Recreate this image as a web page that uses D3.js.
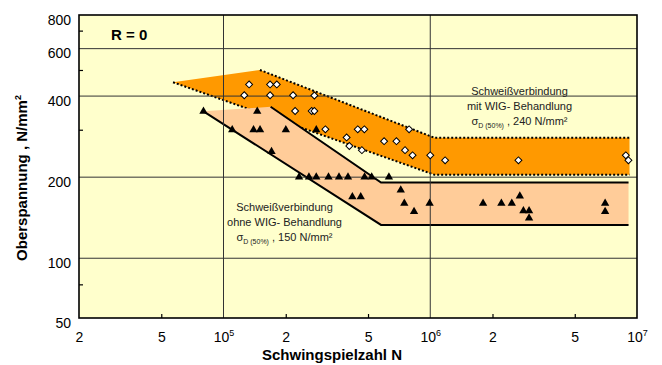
<!DOCTYPE html>
<html><head><meta charset="utf-8">
<script src="https://cdn.jsdelivr.net/npm/d3@7"></script>
<style>body{margin:0;background:#fff;} svg{display:block;font-family:Arial,"Liberation Sans",sans-serif;}</style>
</head><body><svg id="c" width="662" height="365"></svg>
<script>
// ---- axis ticks ----
const xTickValues = [2e4, 5e4, 1e5, 2e5, 5e5, 1e6, 2e6, 5e6, 1e7];
const xTickLabels = ["2", "5", "10^5", "2", "5", "10^6", "2", "5", "10^7"];
const xMinorTicks = [5e4, 2e5, 5e5, 2e6, 5e6];
const xGrid = [1e5, 1e6];
const yTickValues = [60, 100, 200, 400, 600, 800];
const yTickLabels = ["50", "100", "200", "400", "600", "800"];
const yGrid = [100, 200, 400, 600];
const yMinorTicks = [80, 300, 500, 700];

// ---- data: Schweißverbindung mit WIG-Behandlung (diamonds) ----
const wigN = [126000, 133000, 168000, 181000, 168000, 217000, 275000, 222000, 267000, 275000,
  311000, 394000, 406000, 446000, 480000, 467000, 598000, 686000, 755000, 790000,
  821000, 1000000, 1180000, 2670000, 8830000, 9090000];
const wigS = [403, 442, 442, 442, 403, 403, 402, 352, 352, 352,
  301, 281, 261, 301, 301, 252, 272, 272, 252, 301,
  241, 241, 231, 231, 241, 231];

// ---- data: Schweißverbindung ohne WIG-Behandlung (triangles) ----
const ohneN = [80000, 145600, 110200, 139700, 150200, 200200, 281000, 170700,
  232000, 259000, 281000, 322000, 362000, 400000, 481000, 521000, 631000,
  420000, 461000, 720000, 749000, 835000, 993000, 1801000, 2208000, 2480000,
  2712000, 2822000, 3006000, 3006000, 7012000, 7012000];
const ohneS = [351, 351, 300, 300, 300, 300, 300, 249,
  200, 200, 200, 200, 200, 200, 200, 200, 200,
  169, 169, 179, 160, 149, 160, 160, 160, 160,
  170, 150, 150, 141, 160, 149];

// ---- scatter bands ----
const wigUpperN = [150000, 1050000, 9200000];
const wigUpperS = [500, 280, 280];
const wigLowerN = [57000, 1050000, 9200000];
const wigLowerS = [450, 204, 204];
const ohneUpperN = [169000, 578000, 9100000];
const ohneUpperS = [365, 191, 191];
const ohneLowerN = [80000, 578000, 9100000];
const ohneLowerS = [351, 133, 133];

const L = 79, R = 637, T = 15, B = 318;
const x = d3.scaleLog().domain([2e4, 1e7]).range([L, R]);
const y = d3.scaleLog().domain([60, 800]).range([B, T]);

const svg = d3.select("#c");
const zip = (a, b) => a.map((v, i) => [v, b[i]]);
const line = d3.line().x(d => x(d[0])).y(d => y(d[1]));

// background
svg.append("rect").attr("x", L).attr("y", T).attr("width", R - L).attr("height", B - T).attr("fill", "#FFFFCC");

// orange band
const wigU = zip(wigUpperN, wigUpperS), wigL = zip(wigLowerN, wigLowerS);
svg.append("path").attr("d", line([wigL[0], ...wigU, ...wigL.slice().reverse()]) + "Z")
  .attr("fill", "#FF9900");
[wigU, wigL].forEach(p => svg.append("path").attr("d", line(p)).attr("fill", "none")
  .attr("stroke", "#000").attr("stroke-width", 2).attr("stroke-dasharray", "2,2"));

// peach band
const ohU = zip(ohneUpperN, ohneUpperS), ohL = zip(ohneLowerN, ohneLowerS);
svg.append("path").attr("d", line([...ohU, ...ohL.slice().reverse()]) + "Z").attr("fill", "#FFCC99");
[ohU, ohL].forEach(p => svg.append("path").attr("d", line(p)).attr("fill", "none")
  .attr("stroke", "#000").attr("stroke-width", 2));

// gridlines
svg.selectAll(".gy").data(yGrid).enter().append("line")
  .attr("x1", L).attr("x2", R).attr("y1", d => y(d)).attr("y2", d => y(d))
  .attr("stroke", "#333").attr("stroke-width", 1);
svg.selectAll(".gx").data(xGrid).enter().append("line")
  .attr("y1", T).attr("y2", B).attr("x1", d => x(d)).attr("x2", d => x(d))
  .attr("stroke", "#333").attr("stroke-width", 1);

// markers
const tri = d3.symbol().type(d3.symbolTriangle).size(30);
svg.selectAll(".tri").data(zip(ohneN, ohneS)).enter().append("path")
  .attr("d", tri).attr("transform", d => `translate(${x(d[0])},${y(d[1])})`).attr("fill", "#000");
const dia = d3.symbol().type(d3.symbolSquare).size(24);
svg.selectAll(".dia").data(zip(wigN, wigS)).enter().append("path")
  .attr("d", dia).attr("transform", d => `translate(${x(d[0])},${y(d[1])}) rotate(45)`)
  .attr("fill", "#fff").attr("stroke", "#000").attr("stroke-width", 1);

// minor ticks (inside)
const ax = svg.append("g").attr("transform", `translate(0,${B})`)
  .call(d3.axisBottom(x).tickValues(xMinorTicks).tickSize(-4).tickFormat(""));
const ay = svg.append("g").attr("transform", `translate(${L},0)`)
  .call(d3.axisLeft(y).tickValues(yMinorTicks).tickSize(-4).tickFormat(""));
[ax, ay].forEach(g => { g.select(".domain").remove(); g.selectAll("line").attr("stroke", "#000").attr("stroke-width", 1.2); });

// frame
svg.append("rect").attr("x", L).attr("y", T).attr("width", R - L).attr("height", B - T)
  .attr("fill", "none").attr("stroke", "#000").attr("stroke-width", 1.6);

// x labels
const xl = svg.append("g").attr("transform", `translate(0,${B})`)
  .call(d3.axisBottom(x).tickValues(xTickValues).tickSize(0).tickPadding(0).tickFormat((d, i) => xTickLabels[i]));
xl.select(".domain").remove();
xl.selectAll("text").attr("y", 24).attr("dy", null).attr("font-size", 14).attr("fill", "#000")
  .attr("font-family", "Arial, 'Liberation Sans', sans-serif")
  .each(function () {
    const t = d3.select(this), s = t.text();
    if (s.includes("^")) {
      const [b, e] = s.split("^");
      t.text(null);
      t.append("tspan").text(b);
      t.append("tspan").text(e).attr("font-size", 9).attr("dy", -6);
    }
  });

// y labels
const yl = svg.append("g").attr("transform", `translate(${L},0)`)
  .call(d3.axisLeft(y).tickValues(yTickValues).tickSize(0).tickPadding(8).tickFormat((d, i) => yTickLabels[i]));
yl.select(".domain").remove();
yl.selectAll("text").attr("dy", "0.95em").attr("y", -4).attr("font-size", 14).attr("fill", "#000")
  .attr("font-family", "Arial, 'Liberation Sans', sans-serif");

// axis titles
svg.append("text").attr("x", 332).attr("y", 360).attr("text-anchor", "middle")
  .attr("font-size", 15).attr("font-weight", "bold").text("Schwingspielzahl N");
const yt = svg.append("text").attr("transform", "translate(27,178) rotate(-90)").attr("text-anchor", "middle")
  .attr("font-size", 15).attr("font-weight", "bold");
yt.append("tspan").text("Oberspannung , N/mm");
yt.append("tspan").text("2").attr("font-size", 9).attr("dy", -6);

// R = 0
svg.append("text").attr("x", 111).attr("y", 40).attr("font-size", 15).attr("font-weight", "bold").text("R = 0");

// annotations
function annot(cx, y0, l1, l2, val) {
  const g = svg.append("g").attr("fill", "#222").attr("font-size", 11).attr("text-anchor", "middle");
  g.append("text").attr("x", cx).attr("y", y0).text(l1);
  g.append("text").attr("x", cx).attr("y", y0 + 14.5).text(l2);
  const t = g.append("text").attr("x", cx).attr("y", y0 + 29.5);
  t.append("tspan").text("σ");
  t.append("tspan").text("D (50%)").attr("font-size", 7).attr("dy", 3);
  t.append("tspan").text(" , " + val + " N/mm²").attr("dy", -3);
}
annot(519.5, 95, "Schweißverbindung", "mit WIG- Behandlung", "240");
annot(284.5, 211, "Schweißverbindung", "ohne WIG- Behandlung", "150");
</script></body></html>
